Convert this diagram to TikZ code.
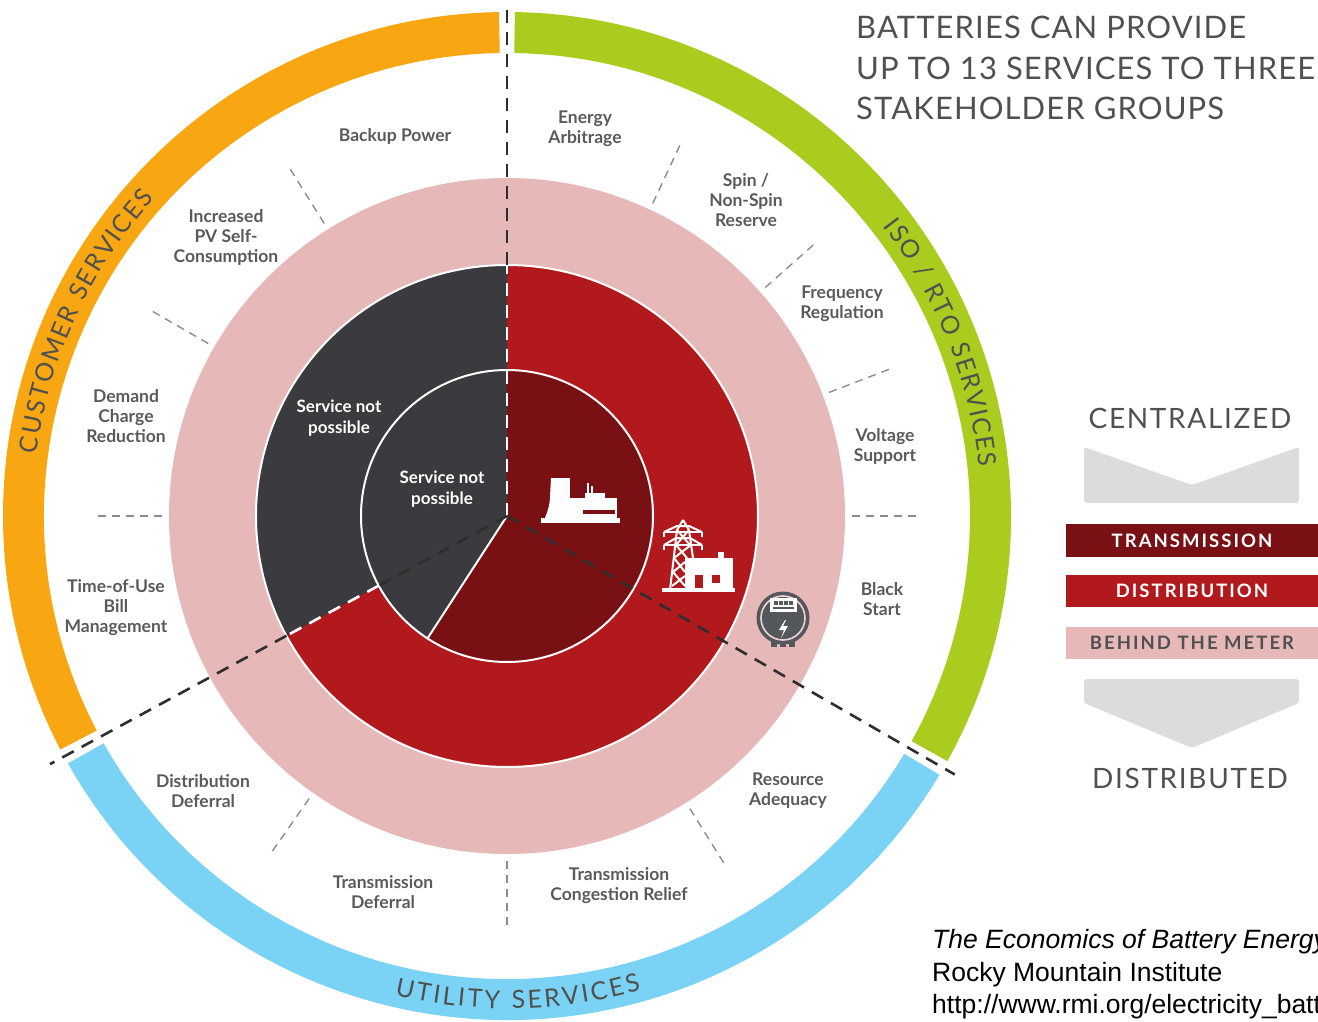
\documentclass[tikz,border=0pt]{standalone}
\usepackage{fontspec}
\setmainfont{Lato}
\newfontfamily\arialf{Liberation Sans}
\newfontfamily\ringfont{Lato}
\newfontfamily\headfont{Lato}[LetterSpace=3.5]
\newfontfamily\bigfont{Lato}[LetterSpace=6]
\newfontfamily\barfont{Lato}[LetterSpace=11]
\usetikzlibrary{decorations.text}
\definecolor{corange}{RGB}{248,166,18}
\definecolor{cgreen}{RGB}{170,204,30}
\definecolor{cblue}{RGB}{122,211,245}
\definecolor{cpink}{RGB}{230,184,184}
\definecolor{cred}{RGB}{178,25,29}
\definecolor{cdred}{RGB}{121,16,20}
\definecolor{cdgray}{RGB}{59,59,63}
\definecolor{ctxt}{RGB}{90,90,90}
\definecolor{cring}{RGB}{80,80,80}
\definecolor{clgray}{RGB}{220,220,220}
\definecolor{cmeter}{RGB}{84,87,91}
\definecolor{csep}{RGB}{140,140,140}
\definecolor{cdiv}{RGB}{46,46,46}
\tikzset{
  lbl/.style={text=ctxt, align=center, font=\bfseries\fontsize{17.5}{20}\selectfont, inner sep=0pt},
  wlbl/.style={text=white, align=center, font=\bfseries\fontsize{17}{21}\selectfont, inner sep=0pt},
  sepline/.style={draw=csep, line width=1.4pt, dash pattern=on 8pt off 6pt},
  divline/.style={draw=cdiv, line width=2.6pt, dash pattern=on 13pt off 9pt},
  divwhite/.style={draw=white, line width=2.6pt, dash pattern=on 13pt off 9pt},
  headtxt/.style={text=cring, anchor=base west, inner sep=0pt, font=\headfont\fontsize{31}{31}\selectfont},
  bigtxt/.style={text=cring, inner sep=0pt, font=\bigfont\fontsize{28}{28}\selectfont},
  bartxt/.style={inner sep=0pt, font=\barfont\bfseries\fontsize{18.5}{18.5}\selectfont},
  cite/.style={anchor=base west, inner sep=0pt, text=black, font=\arialf\fontsize{26.5}{26.5}\selectfont},
}
\newcommand\annsec[5]{\fill[#1] (#4:#3) arc[start angle=#4, end angle=#5, radius=#3] -- (#5:#2) arc[start angle=#5, end angle=#4, radius=#2] -- cycle;}
\begin{document}
\begin{tikzpicture}[x=1pt,y=1pt]
\useasboundingbox (-507,-505) rectangle (811,516);
\clip (-507,-505) rectangle (811,516);
\coordinate (C) at (0,0);
% outer rings
\annsec{corange}{463}{504}{90.9}{207.6}
\annsec{cblue}{463}{504}{209.4}{329.1}
\annsec{cgreen}{463}{504}{-29.1}{89.1}
% ring labels
\path[decorate,decoration={text along path, text align=fit to path,
  text={|\ringfont\fontsize{25}{25}\selectfont\color{cring}|CUSTOMER SERVICES}}]
  (172.5:474.5) arc[start angle=172.5, end angle=138, radius=474.5];
\path[decorate,decoration={text along path, text align=fit to path,
  text={|\ringfont\fontsize{25}{25}\selectfont\color{cring}|ISO / RTO SERVICES}}]
  (37.6:474.5) arc[start angle=37.6, end angle=5.9, radius=474.5];
\path[decorate,decoration={text along path, text align=fit to path,
  text={|\ringfont\fontsize{25}{25}\selectfont\color{cring}|UTILITY SERVICES}}]
  (-103.2:492.5) arc[start angle=-103.2, end angle=-74.2, radius=492.5];
% circles
\fill[cpink] (C) circle[radius=338];
\fill[cred] (C) circle[radius=251];
\fill[cdgray] (C) -- (90:251) arc[start angle=90, end angle=208.5, radius=251] -- cycle;
\draw[white, line width=2pt] (C) circle[radius=251];
\fill[cdred] (C) circle[radius=146];
\fill[cdgray] (C) -- (90:146) arc[start angle=90, end angle=237, radius=146] -- cycle;
\draw[white, line width=2pt] (C) circle[radius=146];
\draw[white, line width=2pt] (C) -- (237:146);
% separators
\foreach \a in {122,150,180,65,41.5,21,0,-58,-90,-125}
  \draw[sepline] (\a:345) -- (\a:410);
% main dividers
\coordinate (T1) at (90:251); \coordinate (T2) at (90:513);
\coordinate (L1) at (208.5:146); \coordinate (L2) at (208.5:251); \coordinate (L3) at (208.5:520);
\coordinate (R1) at (-30:517);
\draw[divwhite] (C) -- (T1);
\draw[divline] (T1) -- (T2);
\draw[divline] (C) -- (L1);
\draw[divwhite] (L1) -- (L2);
\draw[divline] (L2) -- (L3);
\draw[divline] (C) -- (R1);
% labels
\node[lbl] (bp) at (-112,380) {Backup Power};
\node[lbl] (pv) at (-281,279) {Increased\\PV Self-\\Consumption};
\node[lbl] (dc) at (-381,100) {Demand\\Charge\\Reduction};
\node[lbl] (tou) at (-391,-92) {Time-of-Use\\Bill\\Management};
\node[lbl] (ea) at (78,387) {Energy\\Arbitrage};
\node[lbl] (sp) at (239,316) {Spin /\\Non-Spin\\Reserve};
\node[lbl] (fr) at (335,212) {Frequency\\Regulation};
\node[lbl] (vs) at (378,70) {Voltage\\Support};
\node[lbl] (bs) at (375,-83) {Black\\Start};
\node[lbl] (ra) at (281,-275) {Resource\\Adequacy};
\node[lbl] (tcr) at (112,-370) {Transmission\\Congestion Relief};
\node[lbl] (td) at (-124,-376) {Transmission\\Deferral};
\node[lbl] (dd) at (-304,-275) {Distribution\\Deferral};
\node[wlbl] (snp1) at (-168,98) {Service not\\possible};
\node[wlbl] (snp2) at (-65,27) {Service not\\possible};
% power plant icon
\fill[white] (44,38) -- (63,38) -- (63,-2) -- (38,-2) .. controls (42,8) and (43,14) .. (43,19) -- cycle;
\fill[white] (63,-2) rectangle (110,18);
\fill[white] (78,18) rectangle (98,23);
\fill[white] (80,23) rectangle (82,33);
\fill[white] (84,23) rectangle (86,30);
\fill[cdred] (76,2) rectangle (108,6);
\fill[white] (34,-2) rectangle (113,-7);
% tower + house icon
\begin{scope}[white, line width=2pt, line join=round]
\draw (176,-4) -- (170,-14) -- (163,-74);
\draw (176,-4) -- (182,-14) -- (186,-42);
\draw (157,-16) -- (195,-16);
\draw (157,-29) -- (195,-29);
\draw (157,-16) -- (157,-21); \draw (195,-16) -- (195,-21);
\draw (157,-29) -- (157,-34); \draw (195,-29) -- (195,-34);
\draw (157,-16) -- (170,-10) -- (182,-10) -- (195,-16);
\draw (157,-29) -- (169,-22) -- (183,-22) -- (195,-29);
\draw (170,-14) -- (183,-29); \draw (182,-14) -- (169,-29);
\draw (169,-29) -- (180,-42); \draw (184,-29) -- (167,-42);
\draw (167,-42) -- (178,-56); \draw (166,-56) -- (178,-46);
\draw (166,-56) -- (178,-70); \draw (165,-70) -- (178,-60);
\end{scope}
\fill[white] (178,-42) rectangle (226,-74);
\fill[white] (211,-36) rectangle (217,-42);
\fill[cred] (188,-59) rectangle (196,-72);
\fill[cred] (205,-59) rectangle (213,-67);
\fill[white] (155,-72) rectangle (228,-76);
% meter icon
\fill[cmeter] (264,-122) rectangle (270,-131);
\fill[cmeter] (273,-122) rectangle (279,-131);
\fill[cmeter] (282,-122) rectangle (288,-131);
\fill[cmeter] (276,-102) circle[radius=26.5];
\draw[cpink!60!white, line width=1.6pt] (276,-102) circle[radius=22];
\fill[white] (263,-82) rectangle (290,-96);
\foreach \q in {267,272,277,282} \fill[cmeter] (\q,-85) rectangle ++(3.5,-3.5);
\fill[cmeter] (266,-91) rectangle (287,-93);
\fill[white] (278,-104) -- (272,-114) -- (277,-114) -- (274,-122) -- (281,-110) -- (276,-110) -- (279,-104) -- cycle;
% right panel
\node[headtxt] (h1) at (349,477) {BATTERIES CAN PROVIDE};
\node[headtxt] (h2) at (349,436) {UP TO 13 SERVICES TO THREE};
\node[headtxt] (h3) at (349,396) {STAKEHOLDER GROUPS};
\node[bigtxt] (cen) at (683,98) {CENTRALIZED};
\fill[clgray, rounded corners=3pt] (577,69) -- (685,31) -- (792,69) -- (792,13) -- (577,13) -- cycle;
\fill[cdred] (559,-8) rectangle (815,-41);
\fill[cred] (559,-59) rectangle (815,-91);
\fill[cpink] (559,-111) rectangle (815,-143);
\node[bartxt, text=white] (tr) at (685,-24.5) {TRANSMISSION};
\node[bartxt, text=white] (di) at (685,-75) {DISTRIBUTION};
\node[bartxt, text=cring] (bm) at (685,-127) {BEHIND THE METER};
\fill[clgray, rounded corners=3pt] (577,-163) -- (792,-163) -- (792,-187) -- (685,-232) -- (577,-187) -- cycle;
\node[bigtxt] (dis) at (683,-262) {DISTRIBUTED};
\node[cite] (c1) at (425,-432) {\itshape The Economics of Battery Energy Storage};
\node[cite] (c2) at (425,-465) {Rocky Mountain Institute};
\node[cite] (c3) at (425,-497) {http://www.rmi.org/electricity\_battery\_value};
\end{tikzpicture}
\end{document}
